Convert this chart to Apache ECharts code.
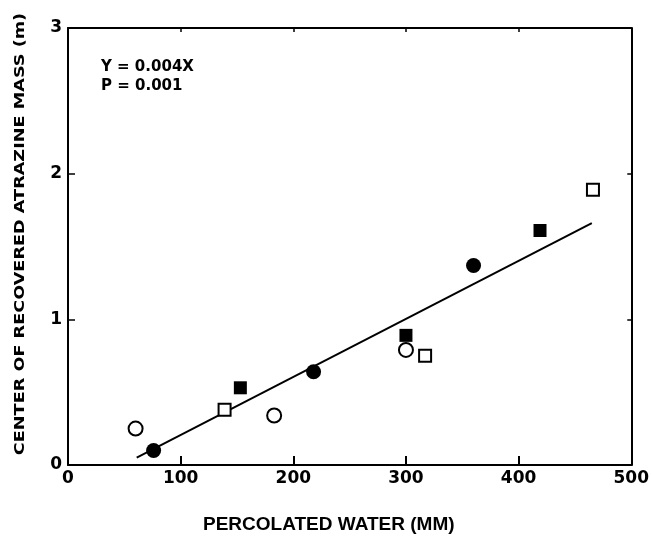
<!DOCTYPE html>
<html>
<head>
<meta charset="utf-8">
<script src="https://cdn.jsdelivr.net/npm/echarts@6/dist/echarts.min.js"></script>
<style>
  html, body { margin: 0; padding: 0; background: #fff; }
  #main { width: 652px; height: 536px; }
</style>
</head>
<body>
<div id="main"></div>
<script>
// data: [percolated water (mm), center of mass (m)]
var openCircle = [[60, 0.25], [183, 0.34], [300, 0.79]];
var filledCircle = [[76, 0.10], [218, 0.64], [360, 1.37]];
var openSquare = [[139, 0.38], [317, 0.75], [466, 1.89]];
var filledSquare = [[153, 0.53], [300, 0.89], [419, 1.61]];
// regression line end points
var fitLine = [[61, 0.05], [465, 1.66]];
var xTicks = [0, 100, 200, 300, 400, 500];
var yTicks = [0, 1, 2, 3];
var noteLines = ['Y = 0.004X', 'P = 0.001'];

var WIDE = '"DejaVu Sans", sans-serif';
var NARROW = '"Liberation Sans", Arial, sans-serif';

var myChart = echarts.init(document.getElementById('main'));

// top / right edges of the box
function frameAxis(pos) {
    return {
        type: 'value',
        position: pos,
        min: 0,
        max: pos === 'top' ? xTicks[xTicks.length - 1] : yTicks[yTicks.length - 1],
        interval: pos === 'top' ? 100 : 1,
        axisLine: { show: true, onZero: false, lineStyle: { color: '#000', width: 2 } },
        axisTick: { show: true, inside: true, length: 4, lineStyle: { color: '#000', width: 1.5 } },
        axisLabel: { show: false },
        splitLine: { show: false }
    };
}

var option = {
    backgroundColor: '#fff',
    animation: false,
    grid: { left: 68, right: 19, top: 28, bottom: 71 },
    xAxis: [
        {
            type: 'value',
            min: xTicks[0],
            max: xTicks[xTicks.length - 1],
            interval: 100,
            axisLine: { show: true, onZero: false, lineStyle: { color: '#000', width: 2 } },
            axisTick: { show: true, inside: true, length: 9, lineStyle: { color: '#000', width: 2 } },
            axisLabel: { color: '#000', fontFamily: WIDE, fontWeight: 'bold', fontSize: 17, margin: 5 },
            splitLine: { show: false }
        },
        frameAxis('top')
    ],
    yAxis: [
        {
            type: 'value',
            min: yTicks[0],
            max: yTicks[yTicks.length - 1],
            interval: 1,
            axisLine: { show: true, onZero: false, lineStyle: { color: '#000', width: 2 } },
            axisTick: { show: true, inside: true, length: 7, lineStyle: { color: '#000', width: 1.5 } },
            axisLabel: { color: '#000', fontFamily: WIDE, fontWeight: 'bold', fontSize: 17, margin: 6 },
            splitLine: { show: false }
        },
        frameAxis('right')
    ],
    graphic: [
        {
            type: 'text',
            left: 101,
            top: 58,
            style: {
                text: noteLines.join('\n'),
                font: 'bold 15px ' + WIDE,
                lineHeight: 19,
                fill: '#000'
            }
        },
        {
            type: 'text',
            x: 203,
            y: 525,
            style: {
                text: 'PERCOLATED WATER (MM)',
                font: 'bold 19px ' + NARROW,
                fill: '#000',
                verticalAlign: 'middle'
            }
        },
        {
            type: 'text',
            x: 20,
            y: 234,
            rotation: Math.PI / 2,
            scaleX: 1.26,
            style: {
                text: 'CENTER OF RECOVERED ATRAZINE MASS (m)',
                font: 'bold 14px ' + WIDE,
                fill: '#000',
                align: 'center',
                verticalAlign: 'middle'
            }
        }
    ],
    series: [
        {
            type: 'line',
            data: fitLine,
            symbol: 'none',
            lineStyle: { color: '#000', width: 2 },
            z: 1
        },
        {
            type: 'scatter',
            data: openCircle,
            symbol: 'circle',
            symbolSize: 14,
            itemStyle: { color: '#fff', borderColor: '#000', borderWidth: 2, opacity: 1 },
            z: 3
        },
        {
            type: 'scatter',
            data: filledCircle,
            symbol: 'circle',
            symbolSize: 15,
            itemStyle: { color: '#000', opacity: 1 },
            z: 3
        },
        {
            type: 'scatter',
            data: openSquare,
            symbol: 'rect',
            symbolSize: 12,
            itemStyle: { color: '#fff', borderColor: '#000', borderWidth: 2, opacity: 1 },
            z: 3
        },
        {
            type: 'scatter',
            data: filledSquare,
            symbol: 'rect',
            symbolSize: 13,
            itemStyle: { color: '#000', opacity: 1 },
            z: 3
        }
    ]
};

myChart.setOption(option);
</script>
</body>
</html>
